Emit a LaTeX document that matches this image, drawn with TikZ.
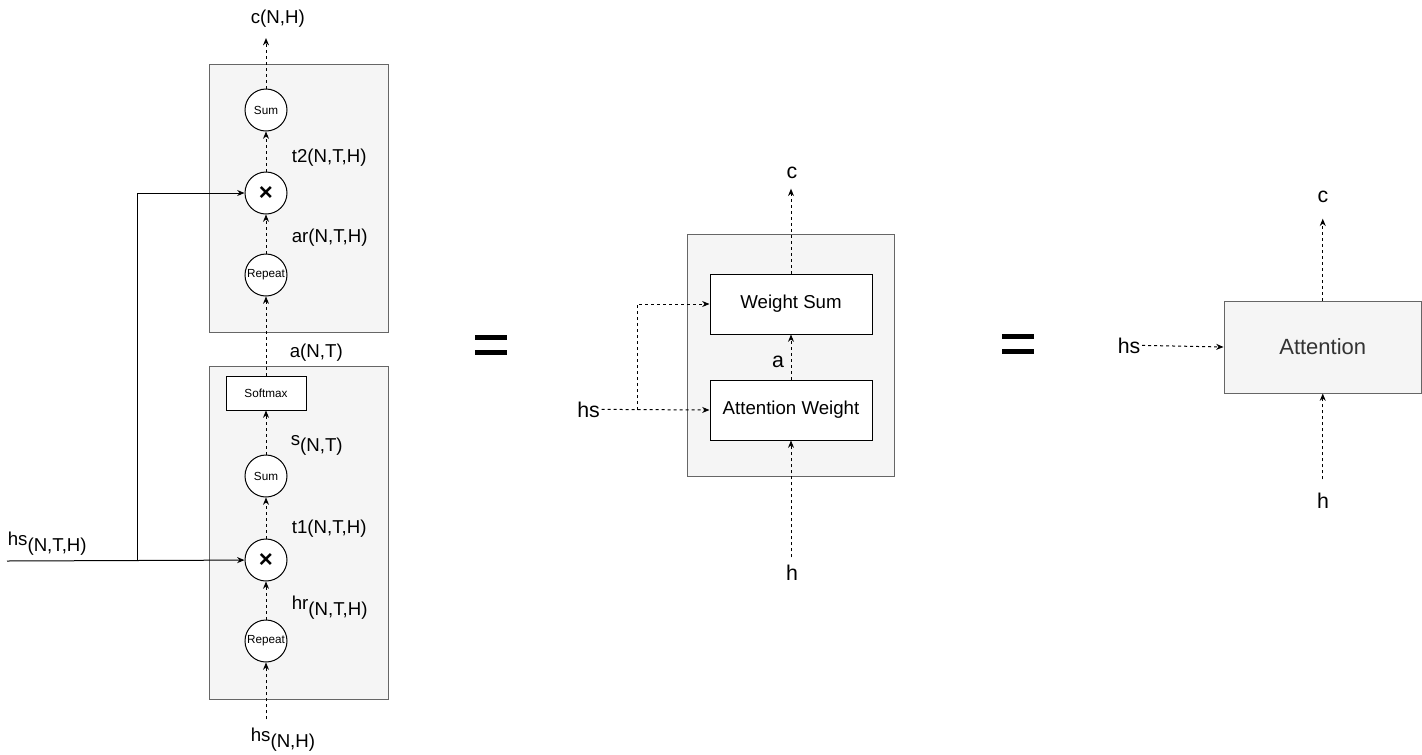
\documentclass[tikz,border=0pt]{standalone}
\usepackage{fontspec}
\setmainfont{Liberation Sans}
\usetikzlibrary{arrows.meta,positioning}

\definecolor{panelfill}{HTML}{F5F5F5}
\definecolor{panelline}{HTML}{666666}
\definecolor{attntext}{HTML}{333333}

\newcommand{\lblsize}{\fontsize{14}{16}\selectfont}
\newcommand{\varsize}{\fontsize{16}{19}\selectfont}
\newcommand{\opsize}{\fontsize{8.8}{10}\selectfont}
\newcommand{\lowtext}[1]{\raisebox{-4.5pt}{#1}}

\begin{document}
\begin{tikzpicture}[x=0.75pt, y=-0.75pt, line width=0.75pt,
    panel/.style={draw=panelline, fill=panelfill},
    op/.style={circle, draw, fill=white, minimum size=31.5pt, inner sep=0pt, font=\opsize},
    block/.style={rectangle, draw, fill=white, inner sep=0pt, font=\lblsize},
    lbl/.style={inner sep=1pt, font=\lblsize},
    var/.style={inner sep=1pt, font=\varsize},
    flow/.style={dash pattern=on 2.25pt off 2.25pt, -{Stealth[length=5.5pt, width=4.5pt]}},
    feed/.style={-{Stealth[length=5.5pt, width=4.5pt]}}]
        \useasboundingbox (0,0) rectangle (1422,754);

        % left: the full computation
        \draw[panel] (209,64) rectangle (388,332);
        \draw[panel] (209,366) rectangle (388,699);

        \node[op] (rep-b) at (266,641) {Repeat};
        \node[op, above = 28.5pt of rep-b, font=\fontsize{18}{20}\selectfont\bfseries] (mul-b) {×};
        \node[op, above = 30.75pt of mul-b] (sum-b) {Sum};
        \node[block, above = 33pt of sum-b, minimum width=60pt, minimum height=25.5pt, font=\opsize] (softmax) {Softmax};

        \node[op] (sum-t) at (266,110) {Sum};
        \node[op, below = 30pt of sum-t, font=\fontsize{18}{20}\selectfont\bfseries] (mul-t) {×};
        \node[op, below = 29.25pt of mul-t] (rep-t) {Repeat};

        \node[lbl, anchor=base west] (c-out) at (249,23) {c(N,H)};
        \node[lbl, anchor=base west] (t2-lbl) at (290,162) {t2(N,T,H)};
        \node[lbl, anchor=base west] (ar-lbl) at (290,242) {ar(N,T,H)};
        \node[lbl, anchor=base west] (a-lbl) at (288,357) {a(N,T)};
        \node[lbl, anchor=base west] (s-lbl) at (289,445) {s\lowtext{(N,T)}};
        \node[lbl, anchor=base west] (t1-lbl) at (290,533) {t1(N,T,H)};
        \node[lbl, anchor=base west] (hr-lbl) at (290,609) {hr\lowtext{(N,T,H)}};
        \node[lbl, anchor=base west] (hs-side) at (6,545) {hs\lowtext{(N,T,H)}};
        \node[lbl, anchor=base west] (hs-in) at (249,741) {hs\lowtext{(N,H)}};

        \coordinate (hs-start) at (7,561);
        \coordinate (hs-split) at (137,561);

        \draw[flow, shorten <=4.7pt] (rep-b |- hs-in.north) -- (rep-b);
        \draw[flow] (rep-b) -- (mul-b);
        \draw[flow] (mul-b) -- (sum-b);
        \draw[flow] (sum-b) -- (softmax);
        \draw[flow] (softmax) -- (rep-t);
        \draw[flow] (rep-t) -- (mul-t);
        \draw[flow] (mul-t) -- (sum-t);
        \draw[flow, shorten >=7pt] (sum-t) -- (sum-t |- c-out.south);

        \draw[feed] (hs-start) -- (mul-b);
        \draw[feed] (hs-split) |- (mul-t);

        % equals
        \fill (475,335) rectangle (507,340);
        \fill (475,350) rectangle (507,355);

        % middle: two blocks
        \draw[panel] (687,234) rectangle (894,476);
        \node[block, minimum width=121.5pt, minimum height=45pt] (w-sum) at (791,304) {Weight Sum};
        \node[block, minimum width=121.5pt, minimum height=45pt] (att-weight) at (791,410) {Attention Weight};

        \node[var, anchor=base] (mid-c) at (792,178) {c};
        \node[var, anchor=base] (mid-a) at (778,367) {a};
        \node[var, anchor=base west] (mid-hs) at (575.5,417) {hs};
        \node[var, anchor=base] (mid-h) at (792,580) {h};
        \coordinate (mid-split) at (637,410);

        \draw[flow] (mid-hs.east) -- (att-weight.west);
        \draw[flow] (mid-split) |- (w-sum.west);
        \draw[flow] (att-weight) -- (w-sum);
        \draw[flow, shorten >=6.5pt] (w-sum.north) -- (w-sum.north |- mid-c.south);
        \draw[flow, shorten <=4pt] (att-weight.south |- mid-h.north) -- (att-weight.south);

        % equals
        \fill (1002,334) rectangle (1034,339);
        \fill (1002,349) rectangle (1034,354);

        % right: one block
        \node[panel, minimum width=148.1pt, minimum height=69pt, text=attntext, font=\fontsize{16.5}{19}\selectfont] (attention) at (1322.75,347) {Attention};
        \node[var, anchor=base] (out-c) at (1323,202) {c};
        \node[var, anchor=base west] (out-hs) at (1116,353) {hs};
        \node[var, anchor=base] (out-h) at (1323,508) {h};

        \draw[flow] (out-hs.east) -- (attention.west);
        \draw[flow, shorten >=11pt] (attention.north) -- (attention.north |- out-c.south);
        \draw[flow, shorten <=8.5pt] (attention.south |- out-h.north) -- (attention.south);
\end{tikzpicture}
\end{document}
